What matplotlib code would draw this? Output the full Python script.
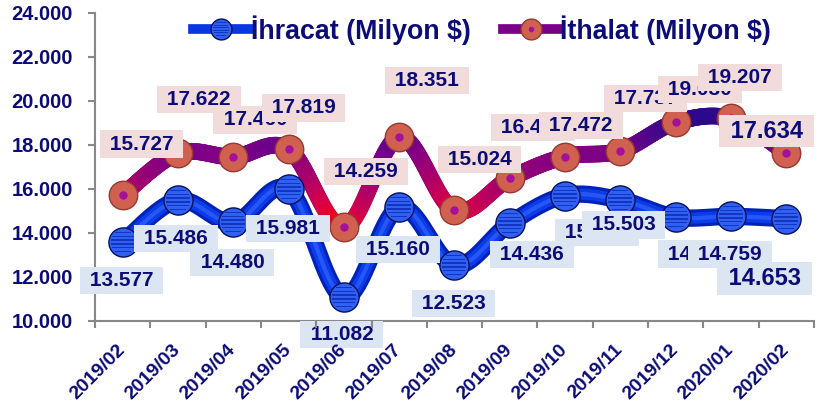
import numpy as np
import matplotlib.pyplot as plt
from matplotlib.collections import LineCollection
from matplotlib.colors import LinearSegmentedColormap, Normalize
from matplotlib.lines import Line2D
from matplotlib.path import Path
from matplotlib.ticker import FuncFormatter, FixedLocator

plt.rcParams['font.family'] = ['Liberation Sans', 'DejaVu Sans']
plt.rcParams['font.weight'] = 'bold'

months = ['2019/02', '2019/03', '2019/04', '2019/05', '2019/06', '2019/07',
          '2019/08', '2019/09', '2019/10', '2019/11', '2019/12', '2020/01', '2020/02']
ihracat = [13577, 15486, 14480, 15981, 11082, 15160, 12523, 14436, 15700, 15503, 14720, 14759, 14653]
ithalat = [15727, 17622, 17460, 17819, 14259, 18351, 15024, 16480, 17472, 17737, 19030, 19207, 17634]

# label offsets in pixels (dx, dy up)
off_ihr = [(-1, -38), (-2, -38), (-1, -40), (-1, -39), (-2, -37), (-1, -42), (-1, -38),
           (22, -31), (32, -37), (3, -25), (24, -37), (-1, -38), (-22, -60)]
off_ith = [(19, 51), (21, 54), (22, 37), (15, 41), (22, 56), (28, 57), (25, 51),
           (23, 51), (16, 31), (25, 52), (24, 33), (9, 41), (-20, 22)]

navy = '#0c0c78'


def smooth(xs, ys, n=40):
    # excel style smoothed line (bezier through the points)
    p = np.column_stack([xs, ys]).astype(float)
    ext = np.vstack([p[0], p, p[-1]])
    t = np.linspace(0, 1, n)[:, None]
    out = []
    for i in range(len(p) - 1):
        p0, p1, p2, p3 = ext[i], ext[i + 1], ext[i + 2], ext[i + 3]
        c1 = p1 + (p2 - p0) / 6
        c2 = p2 - (p3 - p1) / 6
        seg = (1 - t) ** 3 * p1 + 3 * (1 - t) ** 2 * t * c1 + 3 * (1 - t) * t ** 2 * c2 + t ** 3 * p2
        out.append(seg if i == 0 else seg[1:])
    return np.vstack(out)


def stripes():
    verts, codes = [(0, 1), (0, 1)], [Path.MOVETO, Path.LINETO]
    for yc in [-0.72, -0.43, -0.14, 0.14, 0.43, 0.72]:
        h = 0.06
        w = np.sqrt(max(1 - (abs(yc) + h) ** 2, 0)) * 0.95
        verts += [(-w, yc - h), (w, yc - h), (w, yc + h), (-w, yc + h), (0, 0)]
        codes += [Path.MOVETO, Path.LINETO, Path.LINETO, Path.LINETO, Path.CLOSEPOLY]
    return Path(verts, codes)


stripe_marker = stripes()

fig = plt.figure(figsize=(8.2, 4.09), dpi=100)
ax = fig.add_axes([95 / 820, 88 / 409, 719 / 820, 308 / 409])
x = np.arange(len(months))

# ithalat line, gradient red -> purple -> indigo
cmap_ith = LinearSegmentedColormap.from_list(
    'ith', [(0, '#ff0000'), (0.2, '#d6004a'), (0.42, '#a8006c'), (0.68, '#7a0088'), (1, '#240a8c')])
curve = smooth(x, ithalat)
segs = np.stack([curve[:-1], curve[1:]], axis=1)
mid = (curve[:-1, 1] + curve[1:, 1]) / 2
lc = LineCollection(segs, colors=cmap_ith(Normalize(14000, 19500)(mid)), linewidths=12,
                    capstyle='round', zorder=1)
ax.add_collection(lc)

# ihracat line
curve2 = smooth(x, ihracat)
ax.plot(curve2[:, 0], curve2[:, 1], color='#0022b8', lw=12.5, solid_capstyle='round', zorder=1.1)
ax.plot(curve2[:, 0], curve2[:, 1], color='#0a3cea', lw=8, solid_capstyle='round', zorder=1.2)
ax.plot(curve2[:, 0], curve2[:, 1], color='#3a6aff', lw=3, alpha=0.6, zorder=1.3)

# markers
ax.plot(x, ihracat, ls='none', marker='o', ms=21, mfc='#3060f2', mec='#06105a', mew=1, zorder=1.5)
ax.plot(x, ihracat, ls='none', marker=stripe_marker, ms=19, mfc='#1236c0', mew=0, zorder=1.6)
ax.plot(x, ithalat, ls='none', marker='o', ms=20.5, mfc='#d0604f', mec='#963a30', mew=1, zorder=1.5)
ax.plot(x, ithalat, ls='none', marker='o', ms=5, mfc='#a4109c', mec='#a4109c', zorder=1.6)

# data labels
def fmt(v):
    return f'{v:,.0f}'.replace(',', '.')


for i in range(len(months)):
    fs = 17 if i == len(months) - 1 else 15
    ax.annotate(' ' + fmt(ihracat[i]) + ' ', (x[i], ihracat[i]), xytext=off_ihr[i],
                textcoords='offset pixels', ha='center', va='center', fontsize=fs, color=navy,
                zorder=3 + i * 0.01, bbox=dict(boxstyle='square,pad=0.2', fc='#dce6f2', ec='none'))
for i in range(len(months)):
    fs = 17 if i == len(months) - 1 else 15
    ax.annotate(' ' + fmt(ithalat[i]) + ' ', (x[i], ithalat[i]), xytext=off_ith[i],
                textcoords='offset pixels', ha='center', va='center', fontsize=fs, color=navy,
                zorder=3.5 + i * 0.01, bbox=dict(boxstyle='square,pad=0.2', fc='#f2dcdb', ec='none'))

ax.set_xlim(-0.5, len(months) - 0.5)
ax.set_ylim(10000, 24000)
ax.set_yticks(np.arange(10000, 24001, 2000))
ax.yaxis.set_major_formatter(FuncFormatter(lambda v, p: fmt(v)))
ax.set_xticks(x)
ax.set_xticklabels(months, rotation=45, ha='right', va='center', rotation_mode='anchor')
ax.xaxis.set_minor_locator(FixedLocator(np.arange(-0.5, len(months), 1)))
ax.tick_params(axis='x', which='major', length=0, pad=19, labelsize=14, labelcolor=navy)
ax.tick_params(axis='x', which='minor', length=5, width=1.5, color='#888888')
ax.tick_params(axis='y', length=5, width=1.5, color='#888888', pad=11, labelsize=14.5, labelcolor=navy)
ax.xaxis.set_zorder(5)
for s in ['top', 'right']:
    ax.spines[s].set_visible(False)
for s in ['left', 'bottom']:
    ax.spines[s].set_color('#888888')
    ax.spines[s].set_linewidth(1.5)

# legend
h1 = (Line2D([], [], color='#0a38e0', lw=7),
      Line2D([], [], ls='none', marker='o', ms=15, mfc='#3060f2', mec='#06105a'),
      Line2D([], [], ls='none', marker=stripe_marker, ms=13, mfc='#1236c0', mew=0))
h2 = (Line2D([], [], color='#7a0088', lw=7),
      Line2D([], [], ls='none', marker='o', ms=15, mfc='#d0604f', mec='#963a30'),
      Line2D([], [], ls='none', marker='o', ms=3, mfc='#a4109c', mec='#a4109c'))
leg = fig.legend([h1, h2], ['İhracat (Milyon $)', 'İthalat (Milyon $)'], loc='center',
                 bbox_to_anchor=(482 / 820, 1 - 30 / 409), ncol=2, frameon=False,
                 fontsize=19.3, handlelength=2.1, handletextpad=0.05, columnspacing=1.2)
for t in leg.get_texts():
    t.set_color(navy)

fig.savefig('out.png', dpi=100)
